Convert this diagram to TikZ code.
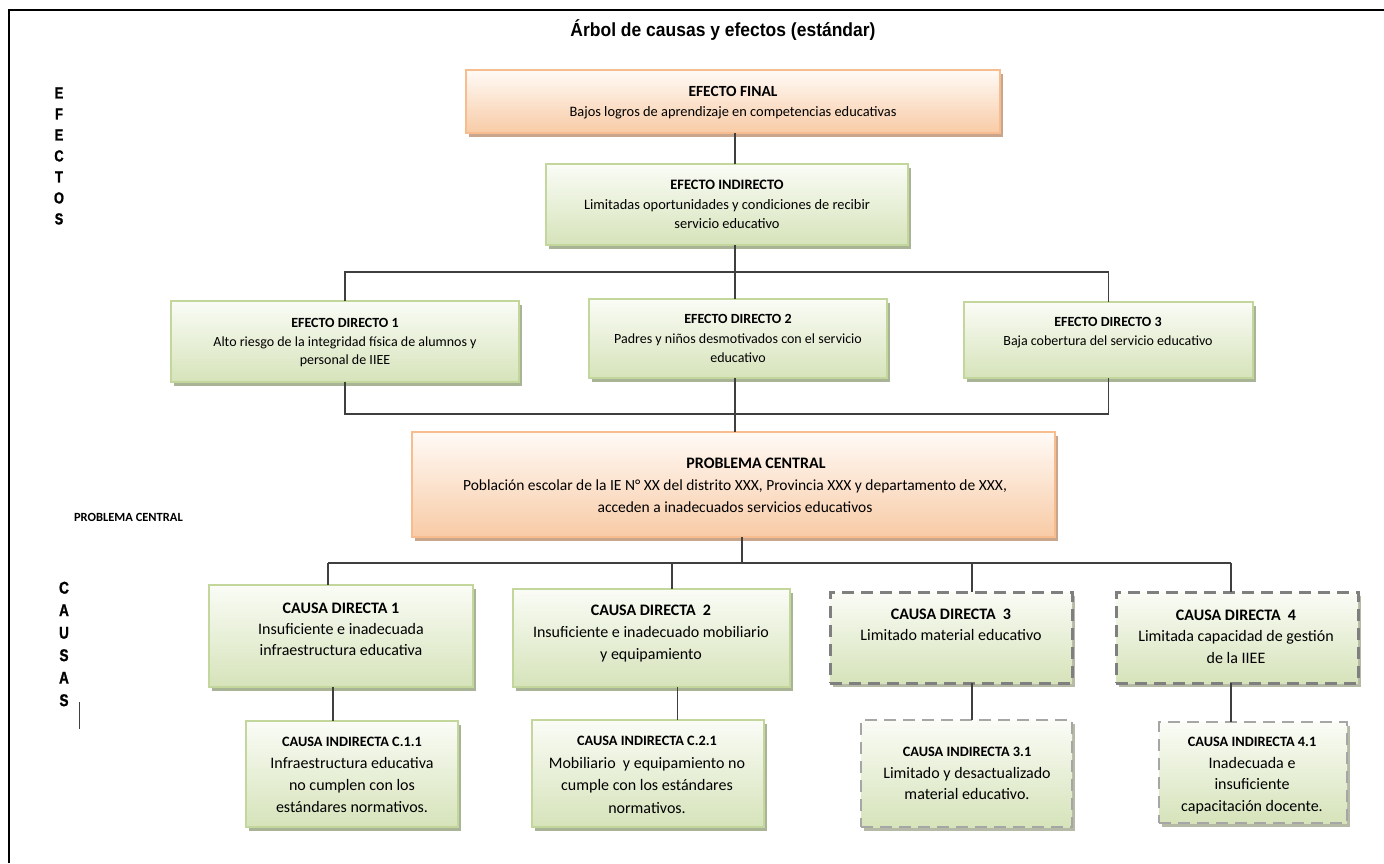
\documentclass[tikz,border=0pt]{standalone}
\usepackage{fontspec}
\setmainfont{Carlito}
\newfontfamily\titlefont[FakeStretch=0.92]{Liberation Sans Bold}
\newfontfamily\lettfont[FakeStretch=0.8, FakeBold=1.2]{Liberation Sans Bold}
\usetikzlibrary{shadows}
\definecolor{orgline}{HTML}{F7BD8E}
\definecolor{orgtop}{HTML}{FFFAF6}
\definecolor{orgbot}{HTML}{F8CBA6}
\definecolor{orgsh}{HTML}{C9A68B}
\definecolor{grnline}{HTML}{C3D69C}
\definecolor{grntop}{HTML}{FAFCF6}
\definecolor{grnbot}{HTML}{D6E3BA}
\definecolor{grnsh}{HTML}{A9B396}
\definecolor{dashdark}{HTML}{7F7F7F}
\definecolor{dashlight}{HTML}{A6A6A6}
\definecolor{dashsh}{HTML}{B4BAA6}
\definecolor{conncol}{HTML}{3F3F3F}
\tikzset{
  basebox/.style={rectangle, inner sep=0pt, outer sep=0pt},
  obox/.style={basebox, draw=orgline, line width=1.6pt, top color=orgtop, bottom color=orgbot,
    drop shadow={shadow xshift=3pt, shadow yshift=-4pt, fill=orgsh, opacity=1}},
  gbox/.style={basebox, draw=grnline, line width=1.6pt, top color=grntop, bottom color=grnbot,
    drop shadow={shadow xshift=3pt, shadow yshift=-4pt, fill=grnsh, opacity=1}},
  dbox/.style={basebox, draw=dashdark, line width=3pt, dash pattern=on 12pt off 7pt,
    top color=grntop, bottom color=grnbot,
    drop shadow={shadow xshift=3pt, shadow yshift=-4pt, fill=dashsh, opacity=1}},
  lbox/.style={basebox, draw=dashlight, line width=2pt, dash pattern=on 12pt off 7pt,
    top color=grntop, bottom color=grnbot,
    drop shadow={shadow xshift=3pt, shadow yshift=-4pt, fill=dashsh, opacity=1}},
  txt/.style={inner sep=0pt, align=center, text=black},
  conn/.style={draw=conncol, line width=1.3pt},
  letters/.style={inner sep=0pt, align=center},
}
\begin{document}
\begin{tikzpicture}[x=1pt,y=-1pt]
\useasboundingbox (0,0) rectangle (1384,863);
% frame
\draw[line width=2.5pt, black] (9,863) -- (9,10) -- (1384,10);

% title
\node[txt, anchor=base, font=\titlefont\fontsize{19}{21}\selectfont] (title) at (723,36) {Árbol de causas y efectos (estándar)};

% side labels
\node[letters, font=\lettfont\fontsize{16}{21}\selectfont] (efectos) at (59,156) {E\\F\\E\\C\\T\\O\\S};
\node[letters, font=\lettfont\fontsize{17}{22.5}\selectfont] (causas) at (64,644) {C\\A\\U\\S\\A\\S};
\node[txt, anchor=east, font=\bfseries\fontsize{12.5}{14}\selectfont] (pclabel) at (183,517) {PROBLEMA CENTRAL};
\draw[conncol, line width=0.9pt] (79,702) -- (79,729);

% boxes
\node[obox, minimum width=534pt, minimum height=63pt] (ef) at (733,101.5) {};
\node[gbox, minimum width=362pt, minimum height=81pt] (ei) at (727,204.5) {};
\node[gbox, minimum width=348pt, minimum height=81pt] (ed1) at (345,341.5) {};
\node[gbox, minimum width=298pt, minimum height=79pt] (ed2) at (738,338.5) {};
\node[gbox, minimum width=289pt, minimum height=76pt] (ed3) at (1108.5,340) {};
\node[obox, minimum width=643pt, minimum height=105pt] (pc) at (733.5,484.5) {};
\node[gbox, minimum width=264pt, minimum height=102pt] (cd1) at (341,636) {};
\node[gbox, minimum width=277pt, minimum height=98pt] (cd2) at (651.5,638) {};
\node[dbox, minimum width=242pt, minimum height=91pt] (cd3) at (951,637.5) {};
\node[dbox, minimum width=242pt, minimum height=91pt] (cd4) at (1237,637.5) {};
\node[gbox, minimum width=212pt, minimum height=106pt] (ci1) at (352,774) {};
\node[gbox, minimum width=232pt, minimum height=107pt] (ci2) at (648,773.5) {};
\node[lbox, minimum width=211pt, minimum height=107pt] (ci3) at (966.5,773.5) {};
\node[lbox, minimum width=188pt, minimum height=101pt] (ci4) at (1253,772.5) {};

% texts
\node[txt, font=\fontsize{14.4}{20}\selectfont] (eft) at (733,103) {{\fontsize{15.5}{20}\selectfont\bfseries EFECTO FINAL}\\Bajos logros de aprendizaje en competencias educativas};
\node[txt, font=\fontsize{14.4}{19.5}\selectfont] (eit) at (727,204.5) {{\bfseries EFECTO INDIRECTO}\\Limitadas oportunidades y condiciones de recibir\\servicio educativo};
\node[txt, font=\fontsize{14}{18.5}\selectfont] (ed1t) at (345,343) {{\bfseries EFECTO DIRECTO 1}\\Alto riesgo de la integridad física de alumnos y\\personal de IIEE};
\node[txt, font=\fontsize{14}{19.5}\selectfont] (ed2t) at (738,338.5) {{\bfseries EFECTO DIRECTO 2}\\Padres y niños desmotivados con el servicio\\educativo};
\node[txt, font=\fontsize{14}{19}\selectfont] (ed3t) at (1108,332.5) {{\bfseries EFECTO DIRECTO 3}\\Baja cobertura del servicio educativo};
\node[txt, font=\fontsize{15.5}{22}\selectfont] (pct) at (735,485) {\hspace*{42pt}{\fontsize{16}{22}\selectfont\bfseries PROBLEMA CENTRAL}\\Población escolar de la IE N° XX del distrito XXX, Provincia XXX y departamento de XXX,\\acceden a inadecuados servicios educativos};
\node[txt, font=\fontsize{16}{21}\selectfont] (cd1t) at (341,629) {{\bfseries CAUSA DIRECTA 1}\\Insuficiente e inadecuada\\infraestructura educativa};
\node[txt, font=\fontsize{16}{22}\selectfont] (cd2t) at (651,634) {{\bfseries CAUSA DIRECTA\ \ 2}\\Insuficiente e inadecuado mobiliario\\y equipamiento};
\node[txt, font=\fontsize{16}{21}\selectfont] (cd3t) at (951,624.5) {{\bfseries CAUSA DIRECTA\ \ 3}\\Limitado material educativo};
\node[txt, font=\fontsize{16}{21.5}\selectfont] (cd4t) at (1236,636.5) {{\bfseries CAUSA DIRECTA\ \ 4}\\Limitada capacidad de gestión\\de la IIEE};
\node[txt, font=\fontsize{16}{22}\selectfont] (ci1t) at (352,775) {{\fontsize{14.3}{22}\selectfont\bfseries CAUSA INDIRECTA C.1.1}\\Infraestructura educativa\\no cumplen con los\\estándares normativos.};
\node[txt, font=\fontsize{16}{22.5}\selectfont] (ci2t) at (647,775) {{\fontsize{14.3}{22}\selectfont\bfseries CAUSA INDIRECTA C.2.1}\\Mobiliario\ \ y equipamiento no\\cumple con los estándares\\normativos.};
\node[txt, font=\fontsize{16}{21.5}\selectfont] (ci3t) at (967,773.5) {{\fontsize{14.3}{22}\selectfont\bfseries CAUSA INDIRECTA 3.1}\\Limitado y desactualizado\\material educativo.};
\node[txt, font=\fontsize{16}{21.5}\selectfont] (ci4t) at (1252,775.5) {{\fontsize{14.3}{22}\selectfont\bfseries CAUSA INDIRECTA 4.1}\\Inadecuada e\\insuficiente\\capacitación docente.};

% connector helper coordinates
\coordinate (sp) at (735,0);
\coordinate (sp2) at (742,0);
\coordinate (bus1) at (0,272);
\coordinate (bus2) at (0,414);
\coordinate (d1) at (328,563);
\coordinate (d2) at (672,563);
\coordinate (d3) at (972,563);
\coordinate (d4) at (1231,563);

% connectors: effects
\draw[conn] (ef.south -| sp) -- (ei.north -| sp);
\draw[conn] (ei.south -| sp) -- (bus1 -| sp);
\draw[conn] (ed1.north) -- (ed1.north |- bus1) -- (ed3.north |- bus1) -- (ed3.north);
\draw[conn] (bus1 -| sp) -- (ed2.north -| sp);
\draw[conn] (ed1.south) -- (ed1.south |- bus2) -- (ed3.south |- bus2) -- (ed3.south);
\draw[conn] (ed2.south -| sp) -- (pc.north -| sp);
% connectors: causes
\draw[conn] (pc.south -| sp2) -- (d1 -| sp2);
\draw[conn] (d1) -- (d4);
\draw[conn] (d1) -- (d1 |- cd1.north);
\draw[conn] (d2) -- (d2 |- cd2.north);
\draw[conn] (d3) -- (d3 |- cd3.north);
\draw[conn] (d4) -- (d4 |- cd4.north);
\draw[conn] ([xshift=-8pt]cd1.south) -- ([xshift=-8pt]cd1.south |- ci1.north);
\draw[conn] ([xshift=26pt]cd2.south) -- ([xshift=26pt]cd2.south |- ci2.north);
\draw[conn] (cd3.south -| d3) -- (ci3.north -| d3);
\draw[conn] (cd4.south -| d4) -- (ci4.north -| d4);
\end{tikzpicture}
\end{document}
